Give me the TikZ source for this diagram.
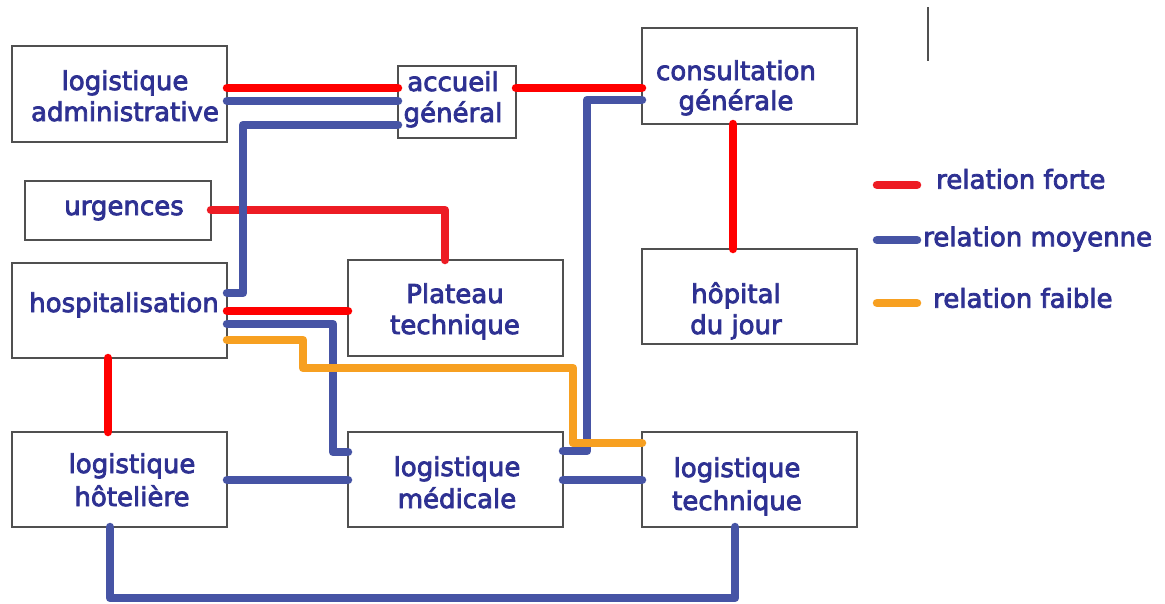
\documentclass[tikz,border=0pt]{standalone}
\usepackage{fontspec}
\setmainfont{DejaVu Sans}[BoldFont=DejaVu Sans, BoldFeatures={FakeBold=3}]
\definecolor{rfort}{RGB}{255,0,0}
\definecolor{rfort2}{RGB}{237,28,36}
\definecolor{rmoy}{RGB}{70,84,165}
\definecolor{rfaib}{RGB}{247,160,33}
\definecolor{txtblue}{RGB}{46,49,146}
\definecolor{boxgray}{RGB}{80,80,80}
\begin{document}
\begin{tikzpicture}[x=1pt,y=-1pt,
  box/.style={draw=boxgray, line width=1.4pt, fill=white, anchor=north west, outer sep=0pt, inner sep=0pt},
  txt/.style={text=txtblue, font=\bfseries\fontsize{26}{31}\selectfont, align=center, anchor=base, inner sep=0pt},
  forte/.style={draw=rfort, line width=8.5pt, line cap=round, line join=round},
  forteb/.style={draw=rfort2, line width=8.5pt, line cap=round, line join=round},
  moy/.style={draw=rmoy, line width=8.5pt, line cap=round, line join=round},
  faib/.style={draw=rfaib, line width=8.5pt, line cap=round, line join=round}]
\useasboundingbox (0,0) rectangle (1165,603);
% boxes
\node[box, minimum width=215, minimum height=96] (la) at (12,46) {};
\node[box, minimum width=118, minimum height=72] (ag) at (398,66) {};
\node[box, minimum width=215, minimum height=96] (cg) at (642,28) {};
\node[box, minimum width=186, minimum height=59] (ur) at (25,181) {};
\node[box, minimum width=215, minimum height=95] (ho) at (12,263) {};
\node[box, minimum width=215, minimum height=96] (pt) at (348,260) {};
\node[box, minimum width=215, minimum height=95] (hj) at (642,249) {};
\node[box, minimum width=215, minimum height=95] (lh) at (12,432) {};
\node[box, minimum width=215, minimum height=95] (lm) at (348,432) {};
\node[box, minimum width=215, minimum height=95] (lt) at (642,432) {};
% texts (base = baseline of last line)
\node[txt] (tla) at (125,121) {logistique\\administrative};
\node[txt] (tag) at (453,122) {accueil\\général};
\node[txt, font=\bfseries\fontsize{26}{30}\selectfont] (tcg) at (736,110) {consultation\\générale};
\node[txt] (tur) at (124,215) {urgences};
\node[txt] (tho) at (124,312) {hospitalisation};
\node[txt] (tpt) at (455,334) {Plateau\\technique};
\node[txt] (thj) at (736,334) {hôpital\\du jour};
\node[txt, font=\bfseries\fontsize{26}{33}\selectfont] (tlh) at (132,506) {logistique\\hôtelière};
\node[txt, font=\bfseries\fontsize{26}{32}\selectfont] (tlm) at (457,508) {logistique\\médicale};
\node[txt, font=\bfseries\fontsize{26}{33}\selectfont] (tlt) at (737,510) {logistique\\technique};
% red
\draw[forte] (la.east |- 0,88) -- (ag.west |- 0,88);
\draw[forte] (ag.east |- 0,88) -- (cg.west |- 0,88);
\draw[forte] (cg.south -| 733,0) -- (hj.north -| 733,0);
\draw[forteb] (ur.east |- 0,210) -- (445,210) -- (pt.north -| 445,0);
\draw[forte] (ho.east |- 0,311) -- (pt.west |- 0,311);
\draw[forte] (ho.south -| 108,0) -- (lh.north -| 108,0);
% blue
\draw[moy] (la.east |- 0,101) -- (ag.west |- 0,101);
\draw[moy] (ag.west |- 0,125) -- (243,125) -- (243,293) -- (ho.east |- 0,293);
\draw[moy] (ho.east |- 0,324) -- (333,324) -- (333,452) -- (lm.west |- 0,452);
\draw[moy] (lm.east |- 0,451) -- (587,451) -- (587,100) -- (cg.west |- 0,100);
\draw[moy] (lh.east |- 0,480) -- (lm.west |- 0,480);
\draw[moy] (lm.east |- 0,480) -- (lt.west |- 0,480);
\draw[moy] (lh.south -| 110,0) -- (110,598) -- (735,598) -- (lt.south -| 735,0);
% orange
\draw[faib] (ho.east |- 0,340) -- (303,340) -- (303,368) -- (573,368) -- (573,443) -- (lt.west |- 0,443);
% legend
\node[txt, anchor=west] (lf) at (936,179) {relation forte};
\node[txt, anchor=west] (lmo) at (923,239) {relation moyenne};
\node[txt, anchor=west] (lfa) at (933,298) {relation faible};
\coordinate (lf0) at (877,185);
\coordinate (lm0) at (877,240);
\coordinate (lfa0) at (877,303);
\draw[forteb] (lf0) -- ++(40,0);
\draw[moy] (lm0) -- ++(40,0);
\draw[faib] (lfa0) -- ++(40,0);
\draw[boxgray, line width=1.4pt] (928,7) -- (928,61);
\end{tikzpicture}
\end{document}
